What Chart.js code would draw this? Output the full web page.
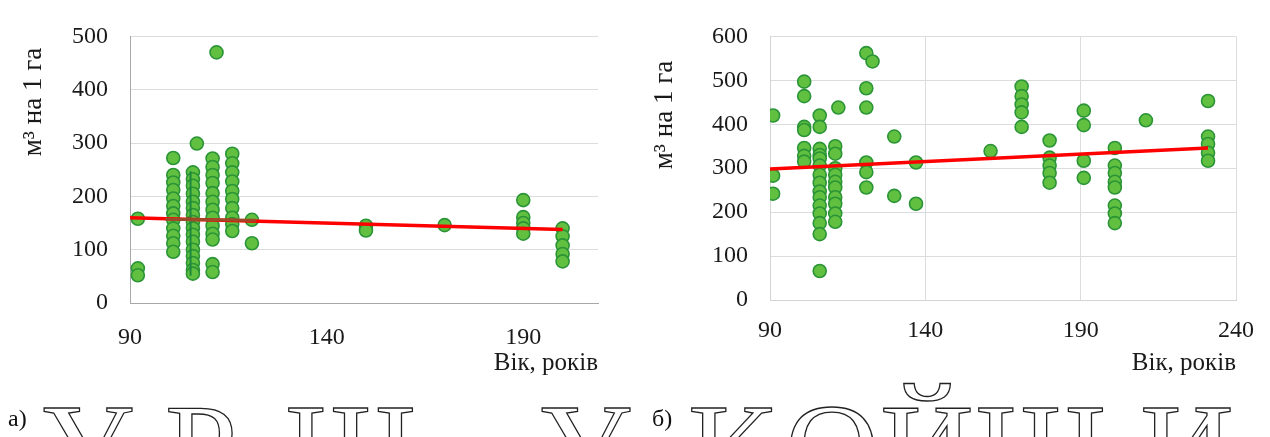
<!DOCTYPE html>
<html>
<head>
<meta charset="utf-8">
<script src="https://cdn.jsdelivr.net/npm/chart.js@4.4.1/dist/chart.umd.min.js"></script>
<style>
  body { margin: 0; background: #fff; width: 1270px; height: 437px; overflow: hidden; position: relative; font-family: 'Liberation Serif', serif; }
  canvas { position: absolute; top: 0; }
  #chartA { left: 0; }
  #chartB { left: 640px; }
  .lbl { position: absolute; font-size: 24px; color: #111; }
  .ytitle { position: absolute; width: 200px; height: 30px; line-height: 30px; text-align: center; font-size: 27px; color: #1a1a1a; transform: rotate(-90deg); }
  .big { position: absolute; top: 384px; font-size: 130px; line-height: 1; color: transparent; -webkit-text-stroke: 1.3px #222; white-space: pre; }
</style>
</head>
<body>
<canvas id="chartA" width="620" height="380"></canvas>
<canvas id="chartB" width="630" height="380"></canvas>

<div class="ytitle" style="left:-68px;top:87px">м³ на 1 га</div>
<div class="ytitle" style="left:563px;top:100px">м³ на 1 га</div>

<span class="big" style="left:40px">У</span>
<span class="big" style="left:165px">Р</span>
<span class="big" style="left:285px">Ш</span>
<span class="big" style="left:538px">У</span>
<span class="big" style="left:688px">К</span>
<span class="big" style="left:785px">О</span>
<span class="big" style="left:880px">Й</span>
<span class="big" style="left:975px">Ш</span>
<span class="big" style="left:1140px">И</span>
<div class="lbl" style="left:8px;top:405px">а)</div>
<div class="lbl" style="left:652px;top:405px">б)</div>

<script>
// а) - вік і запас, перша ділянка
const ageA = [92, 92, 92,
  101, 101, 101, 101, 101, 101, 101, 101, 101, 101, 101, 101,
  107, 106, 106, 106, 106, 106, 106, 106, 106, 106, 106, 106, 106, 106, 106, 106, 106,
  111, 111, 111, 111, 111, 111, 111, 111, 111, 111, 111, 111, 111,
  116, 116, 116, 116, 116, 116, 116, 116, 116, 116,
  121, 121, 112,
  150, 150, 170,
  190, 190, 190, 190, 190,
  200, 200, 200, 200, 200];
const volA = [158, 65, 52,
  272, 240, 226, 212, 196, 182, 168, 156, 140, 126, 112, 96,
  299, 245, 232, 220, 205, 190, 178, 165, 152, 140, 128, 115, 100, 88, 75, 62, 55,
  271, 255, 240, 225, 206, 190, 175, 160, 145, 130, 119, 73, 58,
  280, 262, 245, 228, 210, 195, 178, 160, 148, 135,
  156, 112, 470,
  145, 136, 146,
  193, 161, 150, 140, 130,
  140, 125, 108, 92, 78];
const trendAgeA = [90, 200];
const trendVolA = [160, 138];
const shortAgeA = [99, 122];
const shortVolA = [157, 155];
const stemAgeA = [105.4, 105.4];
const stemVolA = [247, 51];
const xTicksA = [90, 140, 190];

// б) - друга ділянка
const ageB = [91, 91, 91,
  101, 101, 101, 101, 101, 101, 101,
  106, 106, 106, 106, 106, 106, 106, 106, 106, 106, 106, 106, 106, 106, 106,
  112, 111, 111, 111, 111, 111, 111, 111, 111, 111, 111,
  121, 123, 121, 121, 121, 121, 121,
  130, 130, 137, 137,
  161,
  171, 171, 171, 171, 171,
  180, 180, 180, 180, 180,
  191, 191, 191, 191,
  201, 201, 201, 201, 201, 201, 201, 201,
  211,
  231, 231, 231, 231, 231];
const volB = [420, 283, 242,
  497, 464, 394, 387, 346, 328, 315,
  420, 394, 344, 330, 322, 306, 285, 267, 247, 234, 215, 197, 175, 150, 66,
  438, 350, 333, 300, 285, 269, 256, 234, 219, 197, 178,
  562, 543, 482, 438, 313, 291, 256,
  372, 237, 313, 219,
  339,
  486, 464, 445, 427, 394,
  363, 324, 306, 289, 267,
  431, 398, 317, 278,
  346, 306, 289, 269, 256, 215, 197, 175,
  409,
  453, 372, 355, 335, 317];
const trendAgeB = [90, 231];
const trendVolB = [298, 346];

const pts = (xs, ys) => xs.map((x, i) => ({ x: x, y: ys[i] }));
const FONT = 'Liberation Serif';

function makeChart(id, cfg) {
  const datasets = [{
    type: 'scatter',
    data: pts(cfg.ages, cfg.vols),
    backgroundColor: '#62c040',
    borderColor: '#2a9436',
    borderWidth: 1.6,
    pointRadius: 6.5,
    order: 2
  }];
  cfg.lines.forEach(l => {
    datasets.push({
      type: 'line',
      data: pts(l.xs, l.ys),
      borderColor: l.color,
      borderWidth: l.width,
      pointRadius: 0,
      fill: false,
      order: l.order
    });
  });
  return new Chart(document.getElementById(id), {
    data: { datasets: datasets },
    options: {
      responsive: false,
      animation: false,
      events: [],
      layout: { padding: { left: 0, right: cfg.padRight, top: cfg.top, bottom: 0 } },
      plugins: { legend: { display: false }, tooltip: { enabled: false } },
      scales: {
        x: {
          type: 'linear',
          min: cfg.xMin, max: cfg.xMax,
          afterBuildTicks: cfg.xTicks ? (s => { s.ticks = cfg.xTicks.map(v => ({ value: v })); }) : undefined,
          ticks: { stepSize: 50, color: '#1a1a1a', font: { family: FONT, size: 24 }, padding: cfg.xTickPad, maxRotation: 0 },
          grid: { display: cfg.xGrid, color: '#dcdcdc', drawTicks: false },
          border: { display: true, color: cfg.axisColor, width: 1 },
          title: { display: true, text: 'Вік, років', align: 'end', color: '#1a1a1a', font: { family: FONT, size: 25 }, padding: { top: 0, bottom: 2 } },
          afterFit: s => { s.height = 380 - cfg.bottom; }
        },
        y: {
          min: 0, max: cfg.yMax,
          ticks: { stepSize: 100, color: '#1a1a1a', font: { family: FONT, size: 24 }, padding: 22 },
          grid: { color: '#dcdcdc', drawTicks: false },
          border: { display: true, color: cfg.axisColor, width: 1 },
          afterFit: s => { s.width = 130; }
        }
      }
    }
  });
}

makeChart('chartA', {
  ages: ageA, vols: volA,
  lines: [
    { xs: stemAgeA, ys: stemVolA, color: '#1b8a3c', width: 2, order: 1 },
    { xs: trendAgeA, ys: trendVolA, color: '#ff0000', width: 3.5, order: 0 },
    { xs: shortAgeA, ys: shortVolA, color: '#9c4a2a', width: 3, order: -1 }
  ],
  xMin: 90, xMax: 209, xTicks: xTicksA, yMax: 500,
  top: 31, bottom: 303, padRight: 22, xGrid: false, xTickPad: 20,
  axisColor: '#a8a8a8'
});

makeChart('chartB', {
  ages: ageB, vols: volB,
  lines: [
    { xs: trendAgeB, ys: trendVolB, color: '#ff0000', width: 3.5, order: 0 }
  ],
  xMin: 90, xMax: 240, yMax: 600,
  top: 26, bottom: 300, padRight: 23, xGrid: true, xTickPad: 16,
  axisColor: '#d4d4d4'
});
</script>
</body>
</html>
